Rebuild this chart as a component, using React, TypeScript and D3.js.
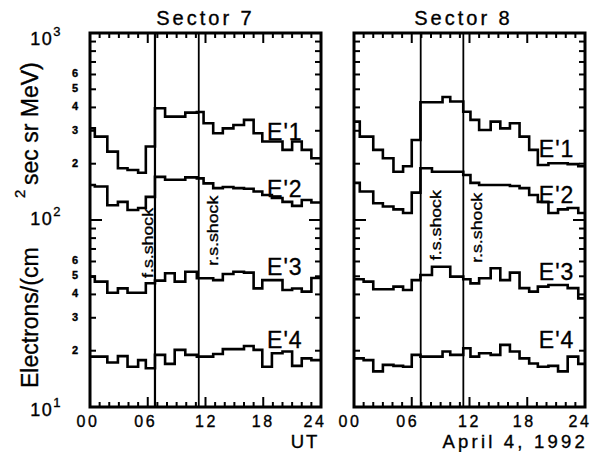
import * as d3 from 'd3';

// bin start times (UT hours), shared by the four channels of a panel
const hoursLeft = [0, 0.5, 1.8, 2.9, 3.9, 5.0, 5.8, 6.75, 7.8, 8.8, 9.9, 11.1, 11.8, 12.8, 13.8, 14.9, 16.0, 17.0, 17.9, 18.9, 20.0, 21.0, 22.0, 23.0];
const e1Left = [309, 279, 232, 189, 185, 179, 247, 396, 357, 357, 375, 378, 329, 291, 309, 322, 343, 291, 263, 263, 237, 263, 237, 214];
const e2Left = [154, 151, 120, 125, 113, 116, 133, 170, 164, 164, 169, 167, 157, 148, 150, 148, 147, 142, 136, 131, 125, 119, 128, 124];
const e3Left = [49.8, 46.8, 40.8, 43.1, 40.8, 40.8, 45.9, 47.4, 51.9, 46.8, 52.9, 48.8, 48.8, 47.7, 51.4, 52.9, 52.3, 43.1, 47.7, 47.7, 42.2, 43.0, 41.4, 49.0];
const e4Left = [18.6, 18.6, 17.3, 18.7, 16.4, 17.8, 16.1, 19.0, 17.0, 20.2, 19.0, 18.6, 18.6, 19.2, 20.4, 20.4, 21.2, 20.2, 16.4, 19.4, 19.8, 16.6, 18.2, 17.8];

const hoursRight = [0, 0.6, 1.0, 2.0, 3.0, 4.1, 5.1, 6.0, 6.9, 8.1, 9.2, 10.0, 11.35, 12.1, 13.0, 14.2, 15.2, 16.2, 17.2, 18.2, 19.1, 20.2, 21.2, 22.2, 23.3];
const e1Right = [336, 279, 279, 237, 214, 181, 194, 268, 426, 426, 455, 430, 379, 343, 303, 336, 309, 329, 279, 237, 197, 201, 201, 199, 194];
const e2Right = [158, 142, 142, 123, 118, 114, 109, 140, 189, 181, 181, 181, 174, 158, 154, 154, 154, 152, 148, 136, 125, 109, 114, 116, 109];
const e3Right = [48.2, 48.2, 46.8, 42.6, 42.6, 44.0, 42.2, 47.7, 50.8, 56.2, 56.2, 49.8, 48.2, 45.8, 48.8, 55.2, 47.7, 52.3, 43.2, 41.4, 44.0, 44.9, 44.9, 43.2, 38.1];
const e4Right = [18.2, 18.2, 17.8, 15.5, 16.8, 16.6, 16.4, 19.0, 18.6, 18.6, 19.8, 19.0, 20.6, 18.6, 19.4, 19.0, 21.5, 19.8, 18.2, 17.1, 16.4, 16.6, 15.5, 18.6, 17.0];

const channels = ["E'1", "E'2", "E'3", "E'4"];
const shocksLeft = [6.75, 11.3];
const shocksRight = [6.93, 11.36];
const shockNames = ['f.s.shock', 'r.s.shock'];
const xTickLabels = ['00', '06', '12', '18', '24'];
const minorTickLabels = [2, 3, 4, 5, 6];

const FONT = '"Liberation Sans", Arial, Helvetica, sans-serif';
const top = 33;
const bottom = 407;
const panelW = 231;

function Panel({ x0, title, titleDx, hours, series, shocks, shockSide, shockStart, labelHour, labelLevels, showY, tickDx }) {
    const x = d3.scaleLinear([0, 24], [x0, x0 + panelW]);
    const y = d3.scaleLog([10, 1000], [bottom, top]);
    const x1 = x0 + panelW;
    const line = d3.line().x(d => x(d[0])).y(d => y(d[1])).curve(d3.curveStepAfter);
    const hourTicks = d3.range(1, 24);
    const yTicks = y.ticks().filter(v => v > 10 && v < 1000);

    return (
        <g>
            <text x={x(12) + titleDx} y={25} textAnchor="middle" fontSize={20} letterSpacing={3}>{title}</text>

            {series.map((vals, k) => {
                const pts = hours.map((h, i) => [h, vals[i]]);
                pts.push([24, vals[vals.length - 1]]);
                return <path key={k} d={line(pts)} fill="none" stroke="#000" strokeWidth={2.6} />;
            })}

            {shocks.map((h, i) => (
                <line key={i} x1={x(h)} x2={x(h)} y1={top} y2={bottom} stroke="#000" strokeWidth={i === 0 && showY ? 2.2 : 1.8} />
            ))}
            {shocks.map((h, i) => (
                <text key={i} transform={`translate(${x(h) + shockSide[i]},${y(shockStart[i])}) rotate(-90)`}
                    fontSize={14} textLength={70} lengthAdjust="spacingAndGlyphs">{shockNames[i]}</text>
            ))}

            {channels.map((c, i) => (
                <text key={c} x={x(labelHour)} y={y(labelLevels[i])} fontSize={23} letterSpacing={1}>{c}</text>
            ))}

            {/* inward ticks on all four sides */}
            {hourTicks.map(h => {
                const len = h % 6 === 0 ? 10 : 5;
                return (
                    <g key={h}>
                        <line x1={x(h)} x2={x(h)} y1={bottom} y2={bottom - len} stroke="#000" strokeWidth={2} />
                        <line x1={x(h)} x2={x(h)} y1={top} y2={top + len} stroke="#000" strokeWidth={2} />
                    </g>
                );
            })}
            {yTicks.map(v => {
                const major = Math.abs(Math.log10(v) - Math.round(Math.log10(v))) < 1e-9;
                const len = major ? 12 : 6;
                return (
                    <g key={v}>
                        <line x1={x0} x2={x0 + len} y1={y(v)} y2={y(v)} stroke="#000" strokeWidth={2} />
                        <line x1={x1} x2={x1 - len} y1={y(v)} y2={y(v)} stroke="#000" strokeWidth={2} />
                    </g>
                );
            })}

            <rect x={x0} y={top} width={panelW} height={bottom - top} fill="none" stroke="#000" strokeWidth={3} />

            {xTickLabels.map((t, i) => (
                <text key={t} x={x(i * 6) + tickDx[i]} y={427} textAnchor="middle" fontSize={16} letterSpacing={2.5}>{t}</text>
            ))}

            {showY && (
                <g>
                    {[1000, 100, 10].map((v, i) => (
                        <text key={v} x={62} y={y(v) + [7, 0, 4][i]} dominantBaseline="middle" textAnchor="end" fontSize={18} letterSpacing={1.5}>
                            10
                            <tspan dx={0} dy={-7} fontSize={13}>{Math.round(Math.log10(v))}</tspan>
                        </text>
                    ))}
                    {[10, 100].map(dec => minorTickLabels.map(m => (
                        <text key={dec * m} x={75} y={y(dec * m)} dominantBaseline="middle" textAnchor="middle" fontSize={11} fontWeight="bold">{m}</text>
                    )))}
                </g>
            )}
        </g>
    );
}

export default function App() {
    return (
        <svg width={605} height={452} style={{ position: 'absolute', left: 0, top: 0, background: '#fff' }} fontFamily={FONT}>
            <style>{'text{stroke:#000;stroke-width:0.35px}'}</style>
            <rect width={605} height={452} fill="#fff" />
            <text transform="translate(38,388) rotate(-90)" fontSize={23}>Electrons/(cm</text>
            <text transform="translate(25,198) rotate(-90)" fontSize={15}>2</text>
            <text transform="translate(38,185) rotate(-90)" fontSize={23}>sec sr MeV)</text>

            <Panel x0={90} title="Sector 7" titleDx={0}
                hours={hoursLeft} series={[e1Left, e2Left, e3Left, e4Left]}
                shocks={shocksLeft} shockSide={[-2, 19]} shockStart={[49, 57]}
                labelHour={18.4} labelLevels={[268, 133, 50.8, 20.7]} showY tickDx={[-2, -2, 1, 0, -6]} />
            <Panel x0={354} title="Sector 8" titleDx={-6}
                hours={hoursRight} series={[e1Right, e2Right, e3Right, e4Right]}
                shocks={shocksRight} shockSide={[20, 19]} shockStart={[61, 59]}
                labelHour={19.2} labelLevels={[217, 123, 47.7, 20.7]} showY={false} tickDx={[-4, -4, 0, -3, -5]} />

            <text x={305} y={447.5} textAnchor="middle" fontSize={18.5} letterSpacing={2}>UT</text>
            <text x={588} y={447.5} textAnchor="end" fontSize={18.5} letterSpacing={3.2}>April 4, 1992</text>
        </svg>
    );
}
